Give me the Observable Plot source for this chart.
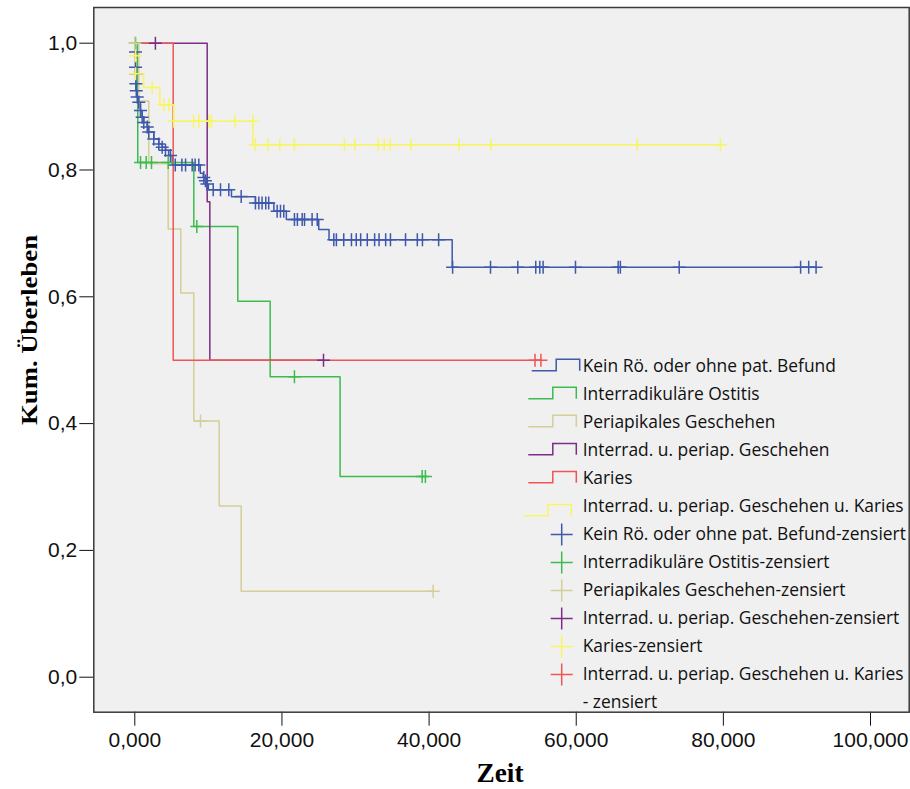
<!DOCTYPE html>
<html><head><meta charset="utf-8">
<script src="https://cdn.jsdelivr.net/npm/d3@7"></script>
<script src="https://cdn.jsdelivr.net/npm/@observablehq/plot@0.6"></script>
<style>
html,body{margin:0;padding:0;background:#fff;}
#wrap{position:relative;width:910px;height:789px;}
#legend{position:absolute;left:0;top:0;pointer-events:none;}
</style></head><body><div id="wrap"></div>
<script>
// ---- data (time, cumulative survival) ----
const blueSteps = [[0,1.0],[0.05,0.986],[0.1,0.962],[0.12,0.952],[0.15,0.936],[0.2,0.925],[0.33,0.915],[0.54,0.907],[0.77,0.894],[1.0,0.883],[1.22,0.875],[1.69,0.868],[1.9,0.860],[2.58,0.849],[3.26,0.841],[3.72,0.836],[4.17,0.831],[4.6,0.823],[5.1,0.808],[8.9,0.795],[9.3,0.788],[9.6,0.783],[9.8,0.778],[10.0,0.769],[13.14,0.758],[16.4,0.748],[18.9,0.735],[20.6,0.722],[25.0,0.706],[26.4,0.690],[43.14,0.6467],[92.6,0.6467]];
const blueCensored = [[0.1,0.986],[0.1,0.962],[0.12,0.952],[0.15,0.936],[0.2,0.925],[0.33,0.915],[0.54,0.907],[0.77,0.894],[1.0,0.883],[1.22,0.875],[1.69,0.868],[1.9,0.860],[2.58,0.849],[3.26,0.841],[3.72,0.836],[4.17,0.831],[4.85,0.823],[5.5,0.808],[6.4,0.808],[6.9,0.808],[7.8,0.808],[8.2,0.808],[8.7,0.808],[9.38,0.788],[9.6,0.783],[9.8,0.778],[10.66,0.769],[11.65,0.769],[12.78,0.769],[14.46,0.758],[16.4,0.748],[16.86,0.748],[17.3,0.748],[17.8,0.748],[18.2,0.748],[19.35,0.735],[19.8,0.735],[20.25,0.735],[21.7,0.722],[22.1,0.722],[22.75,0.722],[23.07,0.722],[24.1,0.722],[24.8,0.722],[27.05,0.69],[27.4,0.69],[28.4,0.69],[29.45,0.69],[30.1,0.69],[30.7,0.69],[31.6,0.69],[32.6,0.69],[33.2,0.69],[34.1,0.69],[34.75,0.69],[36.8,0.69],[38.4,0.69],[39.1,0.69],[41.3,0.69],[43.2,0.6467],[48.35,0.6467],[52.06,0.6467],[54.5,0.6467],[55.05,0.6467],[55.5,0.6467],[59.9,0.6467],[65.7,0.6467],[66.0,0.6467],[74.0,0.6467],[90.5,0.6467],[91.6,0.6467],[92.6,0.6467]];

const greenSteps = [[0,1.0],[0.4,0.812],[8.02,0.711],[14.0,0.593],[18.4,0.474],[27.9,0.3166],[39.5,0.3166]];
const greenCensored = [[0.1,1.0],[0.78,0.812],[1.55,0.812],[2.27,0.812],[4.54,0.812],[8.43,0.711],[21.7,0.474],[39.06,0.3166],[39.5,0.3166]];

const tanSteps = [[0,1.0],[0.54,0.909],[1.9,0.81],[4.54,0.707],[6.25,0.606],[8.02,0.404],[11.47,0.27],[14.46,0.1356],[40.56,0.1356]];
const tanCensored = [[0,1.0],[8.93,0.404],[40.56,0.1356]];

const purpleSteps = [[0,1.0],[9.84,0.75],[10.2,0.5],[25.65,0.5]];
const purpleCensored = [[2.8,1.0],[25.65,0.5]];

const redSteps = [[0,1.0],[5.22,0.5],[55.2,0.5]];
const redCensored = [[54.4,0.5],[55.2,0.5]];

const yellowSteps = [[0,1.0],[0.05,0.98],[0.1,0.952],[1.2,0.930],[3.4,0.903],[5.3,0.877],[16.04,0.840],[79.6,0.840]];
const yellowCensored = [[0.1,0.98],[0.1,0.952],[2.36,0.930],[3.94,0.903],[4.62,0.903],[5.3,0.877],[8.0,0.877],[8.7,0.877],[10.06,0.877],[10.4,0.877],[13.6,0.877],[16.04,0.877],[16.4,0.840],[18.1,0.840],[19.7,0.840],[21.7,0.840],[28.5,0.840],[29.9,0.840],[33.1,0.840],[33.9,0.840],[34.7,0.840],[37.5,0.840],[44.1,0.840],[48.4,0.840],[68.3,0.840],[79.6,0.840]];

const xTicks = [0, 20, 40, 60, 80, 100];
const xTickLabels = ["0,000", "20,000", "40,000", "60,000", "80,000", "100,000"];
const yTicks = [0, 0.2, 0.4, 0.6, 0.8, 1.0];
const yTickLabels = ["0,0", "0,2", "0,4", "0,6", "0,8", "1,0"];

const legendLabels = [
  "Kein Rö. oder ohne pat. Befund",
  "Interradikuläre Ostitis",
  "Periapikales Geschehen",
  "Interrad. u. periap. Geschehen",
  "Karies",
  "Interrad. u. periap. Geschehen u. Karies",
  "Kein Rö. oder ohne pat. Befund-zensiert",
  "Interradikuläre Ostitis-zensiert",
  "Periapikales Geschehen-zensiert",
  "Interrad. u. periap. Geschehen-zensiert",
  "Karies-zensiert",
  "Interrad. u. periap. Geschehen u. Karies",
  "- zensiert"
];

// ---- styling ----
const C = {blue:"#3e58ac", green:"#3dbb4e", tan:"#d4ce97", purple:"#7d2d86", red:"#f05454", yellow:"#f8f564"};
const legendColors = [C.blue, C.green, C.tan, C.purple, C.red, C.yellow, C.blue, C.green, C.tan, C.purple, C.yellow, C.red, null];

const cross = {draw(ctx, size){ const r = Math.sqrt(size/Math.PI); ctx.moveTo(-r,0); ctx.lineTo(r,0); ctx.moveTo(0,-r); ctx.lineTo(0,r);} };

const series = [
  [blueSteps, blueCensored, C.blue],
  [greenSteps, greenCensored, C.green],
  [tanSteps, tanCensored, C.tan],
  [purpleSteps, purpleCensored, C.purple],
  [redSteps, redCensored, C.red],
  [yellowSteps, yellowCensored, C.yellow]
];

const lineMarks = series.map(([s,,c]) => Plot.line(s, {x: d=>d[0], y: d=>d[1], curve: "step-after", stroke: c, strokeWidth: 1.5}));
const crossMarks = series.map(([,cz,c]) => Plot.dot(cz, {x: d=>d[0], y: d=>d[1], symbol: cross, r: 6.5, fill: "none", stroke: c, strokeWidth: 1.5}));

const chart = Plot.plot({
  width: 910, height: 789,
  marginLeft: 93.3, marginRight: 1.3, marginTop: 7, marginBottom: 77.3,
  style: {background: "white", fontFamily: "'Liberation Sans', Arial, sans-serif", color: "#111"},
  x: {domain: [-5.573, 105.26]},
  y: {domain: [-0.0552, 1.0563]},
  marks: [
    Plot.frame({fill: "#f0f0f0", stroke: null}),
    Plot.axisX({ticks: xTicks, tickFormat: d => xTickLabels[xTicks.indexOf(d)], tickSize: 14, tickPadding: 6, fontSize: 21, label: null}),
    Plot.axisY({ticks: yTicks, tickFormat: d => yTickLabels[yTicks.indexOf(d)], tickSize: 14, tickPadding: 2.5, fontSize: 21, label: null}),
    ...lineMarks,
    ...crossMarks,
    Plot.frame({stroke: "#3a3a3a", strokeWidth: 1.5})
  ]
});

const wrap = document.getElementById("wrap");
wrap.appendChild(chart);

const svg = d3.select(chart);
svg.append("text")
  .attr("transform", "translate(37,330) rotate(-90)")
  .attr("text-anchor", "middle")
  .attr("font-family", "'Liberation Serif', 'Times New Roman', serif")
  .attr("font-weight", "bold").attr("font-size", 24)
  .attr("textLength", 190).attr("lengthAdjust", "spacingAndGlyphs")
  .attr("fill", "#000")
  .text("Kum. Überleben");
svg.append("text")
  .attr("x", 500).attr("y", 782)
  .attr("text-anchor", "middle")
  .attr("font-family", "'Liberation Serif', 'Times New Roman', serif")
  .attr("font-weight", "bold").attr("font-size", 27)
  .attr("textLength", 47).attr("lengthAdjust", "spacingAndGlyphs")
  .attr("fill", "#000")
  .text("Zeit");

// ---- legend overlay ----
const lg = d3.select(wrap).append("svg").attr("id","legend").attr("width",910).attr("height",789);
const base0 = 371.7, rowH = 28.03;
legendLabels.forEach((lab, i) => {
  const b = base0 + i*rowH;
  lg.append("text").attr("x", 582.7).attr("y", b)
    .attr("font-family", "'Open Sans', sans-serif").attr("font-size", 17.4).attr("fill", "#111")
    .text(lab);
  const col = legendColors[i];
  if (!col) return;
  if (i < 6) {
    const x0 = i === 0 ? 531.7 : (i === 5 ? 523.3 : 528.3);
    const low = i === 5 ? b + 4 : b - 1;
    const high = low - 11.4;
    lg.append("path").attr("d", `M${x0},${low}H${x0+24.5}V${high}H${x0+48}V${low}`)
      .attr("fill","none").attr("stroke", col).attr("stroke-width", 1.5);
  } else {
    const cx = 561.7, cy = b - 5.5, r = 11;
    lg.append("path").attr("d", `M${cx-r},${cy}H${cx+r}M${cx},${cy-r}V${cy+r}`)
      .attr("fill","none").attr("stroke", col).attr("stroke-width", 1.5);
  }
});
</script></body></html>
